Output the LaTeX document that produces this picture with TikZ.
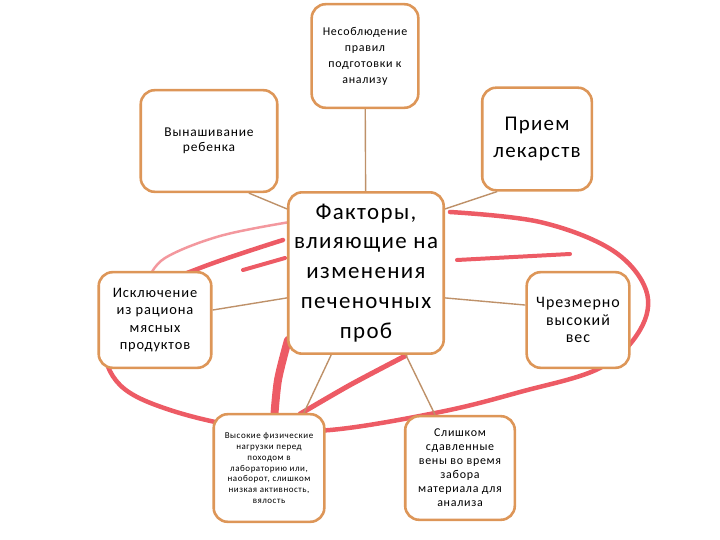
\documentclass[tikz,border=0pt]{standalone}
\usepackage{fontspec}
\setmainfont[LetterSpace=6]{Carlito}
\definecolor{boxedge}{RGB}{221, 150, 88}
\definecolor{linkbrown}{RGB}{190, 145, 105}
\definecolor{scribred}{RGB}{232, 50, 62}
\usepackage{tikz}
\usetikzlibrary{
  arrows.meta,
  positioning
}

\begin{document}
\begin{tikzpicture}[
  x=1bp, y=-1bp,
  factor/.style={
    draw=boxedge, line width=2.6pt,
    fill=white,
    rounded corners=14pt,
    text=black, align=center, inner sep=3pt
  },
  link/.style={draw=linkbrown, line width=1.4pt},
  scrib/.style={draw=scribred, line cap=round, line join=round, opacity=.8}
]
\useasboundingbox (0,0) rectangle (720,540);

% red hand-drawn loop behind the boxes
\draw[scrib, line width=4.5pt] plot[smooth, tension=.6] coordinates {
  (283,240) (200,268) (130,300) (105,345) (120,385) (170,410) (250,428)
  (330,430) (440,412) (520,392) (600,368) (640,330) (646,290) (612,250)
  (540,222) (450,212)};
\draw[scrib, line width=2.5pt, opacity=.5] plot[smooth, tension=.6] coordinates {
  (290,222) (220,236) (165,258) (148,280)};
\draw[scrib, line width=4pt] (243,270) -- (285,258);
\draw[scrib, line width=4pt] (457,260) -- (570,254);
\draw[scrib, line width=8pt] plot[smooth] coordinates {(288,340) (278,380) (274,420)};
\draw[scrib, line width=5pt] plot[smooth] coordinates {(300,414) (350,385) (405,356)};

\node[factor, minimum width=107, minimum height=104, font=\fontsize{12}{16}\selectfont] (prep) at (365,56) {Несоблюдение\\правил\\подготовки к\\анализу};
\node[factor, minimum width=137, minimum height=102, font=\fontsize{13.5}{15}\selectfont] (preg) at (209,141) {Вынашивание\\ребенка};
\node[factor, minimum width=110, minimum height=103, font=\fontsize{21}{27}\selectfont] (drug) at (537,139) {Прием\\лекарств};
\node[factor, minimum width=156, minimum height=162, font=\fontsize{23}{30}\selectfont] (core) at (366,273) {Факторы,\\влияющие на\\изменения\\печеночных\\проб};
\node[factor, minimum width=113, minimum height=96, font=\fontsize{14.5}{17.5}\selectfont] (meat) at (155,320) {Исключение\\из рациона\\мясных\\продуктов};
\node[factor, minimum width=103, minimum height=96, font=\fontsize{16}{17.5}\selectfont] (weight) at (578,320) {Чрезмерно\\высокий\\вес};
\node[factor, minimum width=111, minimum height=108, font=\fontsize{9}{10.8}\selectfont] (load) at (269,468) {Высокие физические\\нагрузки перед\\походом в\\лабораторию или,\\наоборот, слишком\\низкая активность,\\вялость};
\node[factor, minimum width=110, minimum height=104, font=\fontsize{12}{14}\selectfont] (vein) at (460,468) {Слишком\\сдавленные\\вены во время\\забора\\материала для\\анализа};

% connectors to the central box
\draw[link] (prep) -- (core);
\draw[link] ([xshift=40]preg.south) -- ([yshift=-18]core.north west);
\draw[link] ([xshift=-40]drug.south) -- ([yshift=-18]core.north east);
\draw[link] ([yshift=10]meat.east) -- ([yshift=-25]core.west);
\draw[link] ([yshift=15]weight.west) -- ([yshift=-25]core.east);
\draw[link] ([xshift=-35]core.south) -- ([xshift=35]load.north);
\draw[link] ([xshift=40]core.south) -- ([xshift=-25]vein.north);
\end{tikzpicture}
\end{document}
